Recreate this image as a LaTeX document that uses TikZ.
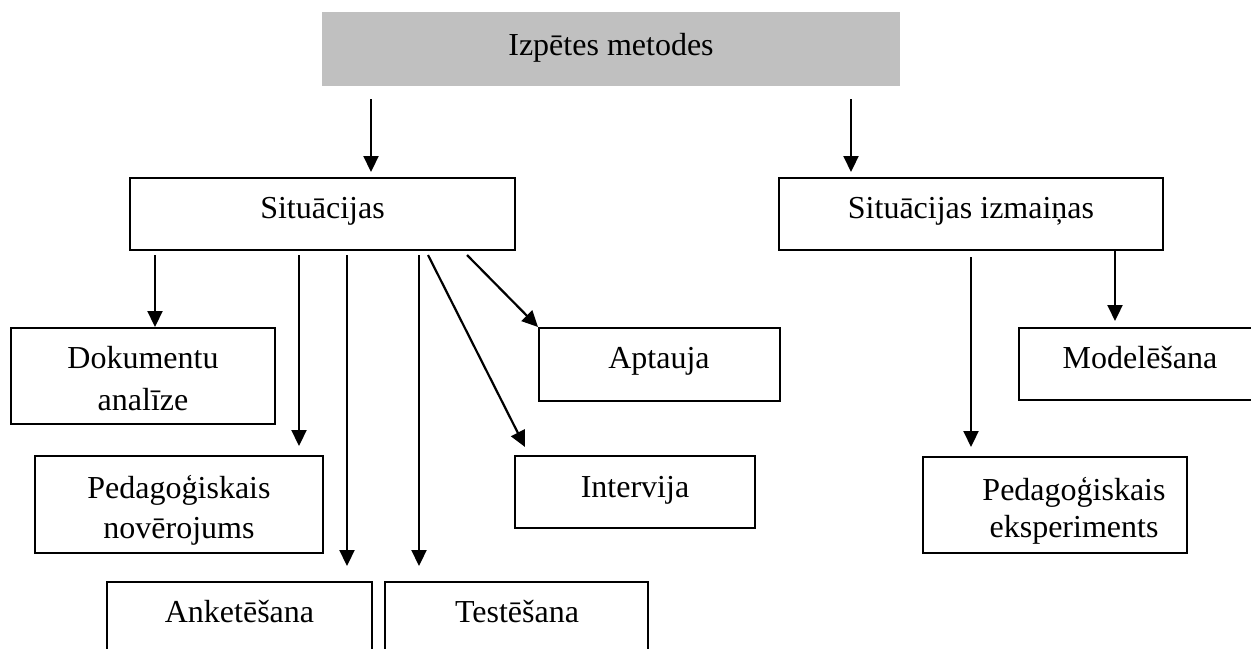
\documentclass[tikz,border=0pt]{standalone}
\usepackage{fontspec}
\setmainfont{Liberation Serif}
\usetikzlibrary{arrows.meta,fit}
\definecolor{hdrgray}{RGB}{192,192,192}
\begin{document}
\begin{tikzpicture}[x=0.5pt,y=-0.5pt,
  box/.style={draw=black,line width=1pt,inner sep=0pt,fill=white},
  hdr/.style={fill=hdrgray,draw=none,inner sep=0pt},
  txt/.style={anchor=base,inner sep=0pt,font=\fontsize{16}{20}\selectfont},
  arr/.style={line width=1.1pt,-{Triangle[length=8pt,width=7.5pt]}}]
\useasboundingbox (0,0) rectangle (1251,648);
% boxes
\node[hdr,fit={(322,12) (900,86)}] (top) {};
\node[box,fit={(130,178) (515,250)}] (sit) {};
\node[box,fit={(779,178) (1163,250)}] (sitiz) {};
\node[box,fit={(11,328) (275,424)}] (dok) {};
\node[box,fit={(35,456) (323,553)}] (ped) {};
\node[box,fit={(107,582) (372,662)}] (ank) {};
\node[box,fit={(385,582) (648,662)}] (test) {};
\node[box,fit={(539,328) (780,401)}] (apt) {};
\node[box,fit={(515,456) (755,528)}] (int) {};
\node[box,fit={(1019,328) (1262,400)}] (mod) {};
\node[box,fit={(923,457) (1187,553)}] (eksp) {};
% texts
\node[txt] (top-t) at (611,55) {Izpētes metodes};
\node[txt] (sit-t) at (322.5,218) {Situācijas};
\node[txt] (sitiz-t) at (971,218) {Situācijas izmaiņas};
\node[txt] (dok-t1) at (143,368) {Dokumentu};
\node[txt] (dok-t2) at (143,410) {analīze};
\node[txt] (ped-t1) at (179,498) {Pedagoģiskais};
\node[txt] (ped-t2) at (179,538) {novērojums};
\node[txt] (ank-t) at (239.5,622) {Anketēšana};
\node[txt] (test-t) at (517,622) {Testēšana};
\node[txt] (apt-t) at (659,368) {Aptauja};
\node[txt] (int-t) at (635,497) {Intervija};
\node[txt] (mod-t) at (1140,368) {Modelēšana};
\node[txt] (eksp-t1) at (1074,500) {Pedagoģiskais};
\node[txt] (eksp-t2) at (1074,537) {eksperiments};
% connector start points
\coordinate (a1) at (371,99);
\coordinate (a2) at (851,99);
\coordinate (s1) at (155,255);
\coordinate (s2) at (299,255);
\coordinate (s3) at (347,255);
\coordinate (s4) at (419,255);
\coordinate (s5) at (428,255);
\coordinate (s6) at (467,255);
\coordinate (z1) at (971,257);
\coordinate (z2) at (1115,251);
\coordinate (e1) at (371,172);
\coordinate (e2) at (851,172);
\coordinate (e5) at (525,447);
% connectors
\draw[arr] (a1) -- (e1);
\draw[arr] (a2) -- (e2);
\draw[arr] (s1) -- (s1 |- dok.north);
\draw[arr] (s2) -- ([yshift=4.5pt]s2 |- ped.north);
\draw[arr] (s3) -- ([yshift=7.5pt]s3 |- ank.north);
\draw[arr] (s4) -- ([yshift=7.5pt]s4 |- test.north);
\draw[arr] (s5) -- (e5);
\draw[arr] (s6) -- (apt.north west);
\draw[arr] (z1) -- ([yshift=4.5pt]z1 |- eksp.north);
\draw[arr] (z2) -- ([yshift=3pt]z2 |- mod.north);
\end{tikzpicture}
\end{document}
